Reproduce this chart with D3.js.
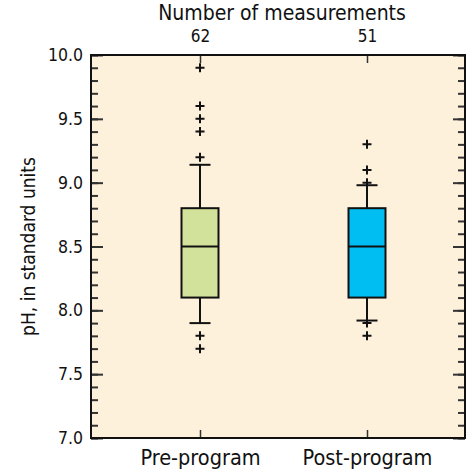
<!DOCTYPE html>
<html>
<head>
<meta charset="utf-8">
<script src="https://cdn.jsdelivr.net/npm/d3@7"></script>
<style>
    body { margin: 0; background: #fff; }
    text { font-family: "Liberation Sans Narrow", "Arial Narrow", "DejaVu Sans Condensed", sans-serif; fill: #111; }
</style>
</head>
<body>
<svg id="chart" width="466" height="474"></svg>
<script>
// groups and summary values
var groups = ["Pre-program", "Post-program"];
var counts = [62, 51];
var q1 = [8.1, 8.1];
var medians = [8.5, 8.5];
var q3 = [8.8, 8.8];
var whiskerLow = [7.9, 7.92];
var whiskerHigh = [9.14, 8.98];
var outliers = [
    [9.9, 9.6, 9.5, 9.4, 9.2, 7.8, 7.7],
    [9.3, 9.1, 9.0, 7.9, 7.8]
];
var fills = ["#d3e29b", "#00bef2"];
var yTicks = [7.0, 7.5, 8.0, 8.5, 9.0, 9.5, 10.0];

var pLeft = 91, pRight = 465, pTop = 55, pBottom = 438;
var font = "Liberation Sans Narrow, Arial Narrow, DejaVu Sans Condensed, sans-serif";
var svg = d3.select("#chart");

var y = d3.scaleLinear().domain([7, 10]).range([pBottom, pTop]);
// the two boxes sit at ~200 and ~367
var x = d3.scalePoint().domain(groups).range([200, 367]);

// plot background
svg.append("rect").attr("x", pLeft).attr("y", pTop)
    .attr("width", pRight - pLeft).attr("height", pBottom - pTop)
    .attr("fill", "#fef1dc");

// minor ticks every 0.1 on both sides
var minor = d3.range(70, 101).map(function (d) { return d / 10; });
svg.append("g").attr("class", "yt").attr("transform", "translate(" + pLeft + ",0)")
    .call(d3.axisLeft(y).tickValues(minor).tickSize(-7).tickFormat(""));
svg.append("g").attr("class", "yt").attr("transform", "translate(" + pRight + ",0)")
    .call(d3.axisRight(y).tickValues(minor).tickSize(-7).tickFormat(""));
// major ticks
svg.append("g").attr("class", "yt").attr("transform", "translate(" + pLeft + ",0)")
    .call(d3.axisLeft(y).tickValues(yTicks).tickSize(-12).tickPadding(8).tickFormat(d3.format(".1f")));
svg.append("g").attr("class", "yt").attr("transform", "translate(" + pRight + ",0)")
    .call(d3.axisRight(y).tickValues(yTicks).tickSize(-12).tickFormat(""));
svg.selectAll(".yt .domain").remove();
svg.selectAll(".yt .tick line").attr("stroke", "#333").attr("stroke-width", 2);
svg.selectAll(".yt .tick text").attr("font-size", 17.5).attr("fill", "#111").attr("font-family", font);

// top and bottom ticks at the group positions
var xTop = d3.axisTop(x).tickSize(-8).tickPadding(13).tickFormat(function (d, i) { return counts[i]; });
var xBottom = d3.axisBottom(x).tickSize(-8).tickPadding(12);
svg.append("g").attr("class", "xt").attr("transform", "translate(0," + pTop + ")").call(xTop);
svg.append("g").attr("class", "xb").attr("transform", "translate(0," + pBottom + ")").call(xBottom);
svg.selectAll(".xt .domain, .xb .domain").remove();
svg.selectAll(".xt line, .xb line").attr("stroke", "#333").attr("stroke-width", 1.5);
svg.selectAll(".xt text").attr("font-size", 17).attr("fill", "#111").attr("font-family", font);
svg.selectAll(".xb text").attr("font-size", 21.5).attr("fill", "#111").attr("font-family", font);

// boxes
var boxW = 37, capW = 21;
var box = svg.selectAll(".box").data(groups).enter().append("g").attr("class", "box");
box.append("line")
    .attr("x1", function (d) { return x(d); }).attr("x2", function (d) { return x(d); })
    .attr("y1", function (d, i) { return y(whiskerHigh[i]); })
    .attr("y2", function (d, i) { return y(whiskerLow[i]); })
    .attr("stroke", "#111").attr("stroke-width", 2);
box.append("line")
    .attr("x1", function (d) { return x(d) - capW / 2; }).attr("x2", function (d) { return x(d) + capW / 2; })
    .attr("y1", function (d, i) { return y(whiskerHigh[i]); })
    .attr("y2", function (d, i) { return y(whiskerHigh[i]); })
    .attr("stroke", "#111").attr("stroke-width", 2);
box.append("line")
    .attr("x1", function (d) { return x(d) - capW / 2; }).attr("x2", function (d) { return x(d) + capW / 2; })
    .attr("y1", function (d, i) { return y(whiskerLow[i]); })
    .attr("y2", function (d, i) { return y(whiskerLow[i]); })
    .attr("stroke", "#111").attr("stroke-width", 2);
box.append("rect")
    .attr("x", function (d) { return x(d) - boxW / 2; })
    .attr("y", function (d, i) { return y(q3[i]); })
    .attr("width", boxW)
    .attr("height", function (d, i) { return y(q1[i]) - y(q3[i]); })
    .attr("fill", function (d, i) { return fills[i]; })
    .attr("stroke", "#111").attr("stroke-width", 2);
box.append("line")
    .attr("x1", function (d) { return x(d) - boxW / 2; }).attr("x2", function (d) { return x(d) + boxW / 2; })
    .attr("y1", function (d, i) { return y(medians[i]); })
    .attr("y2", function (d, i) { return y(medians[i]); })
    .attr("stroke", "#111").attr("stroke-width", 2);

// outliers as plus signs
var pts = [];
groups.forEach(function (g, i) {
    outliers[i].forEach(function (v) { pts.push({ g: g, v: v }); });
});
svg.selectAll(".out").data(pts).enter().append("path").attr("class", "out")
    .attr("transform", function (d) { return "translate(" + x(d.g) + "," + y(d.v) + ")"; })
    .attr("d", "M-4.5,0H4.5M0,-4.5V4.5")
    .attr("stroke", "#111").attr("stroke-width", 2);

// frame
svg.append("rect").attr("x", pLeft).attr("y", pTop)
    .attr("width", pRight - pLeft).attr("height", pBottom - pTop)
    .attr("fill", "none").attr("stroke", "#111").attr("stroke-width", 2);

// titles
svg.append("text").attr("x", 282).attr("y", 20).attr("text-anchor", "middle")
    .attr("font-size", 21).attr("font-family", font).text("Number of measurements");
svg.append("text").attr("transform", "translate(35," + ((pTop + pBottom) / 2) + ") rotate(-90)")
    .attr("text-anchor", "middle").attr("font-size", 19).attr("font-family", font).text("pH, in standard units");
</script>
</body>
</html>
